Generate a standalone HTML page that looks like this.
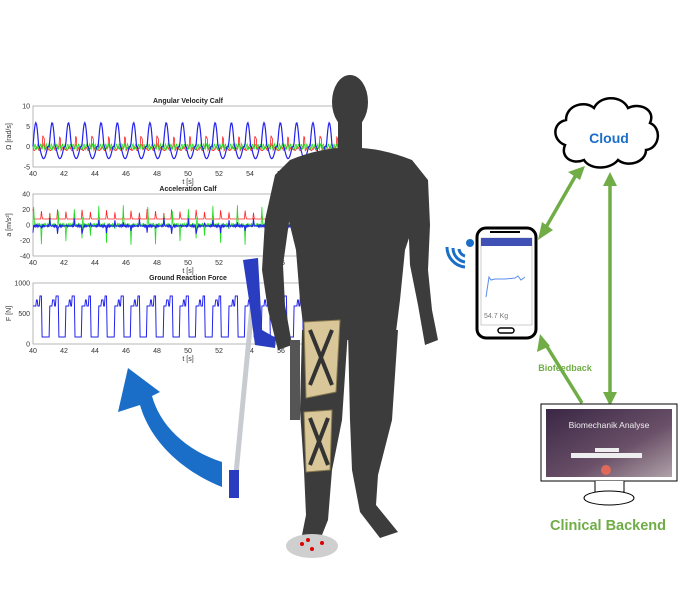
<!DOCTYPE html>
<html><head><meta charset="utf-8"><style>
html,body{margin:0;padding:0;background:#fff;width:678px;height:601px;overflow:hidden}
svg text{font-family:"Liberation Sans",sans-serif}
</style></head><body>
<svg id="s" width="678" height="601" viewBox="0 0 678 601" xmlns="http://www.w3.org/2000/svg">
<g id="plots" font-size="7" fill="#333"></g>
<!-- blue curved arrow -->
<path d="M222,487 C180,470 150,440 140,405 L118,412 L128,368 L160,392 L152,396 C160,425 185,450 222,462 Z" fill="#1a6ec8"/>
<!-- crutch -->
<g>
<line x1="256" y1="265" x2="234" y2="495" stroke="#c8ccd0" stroke-width="5"/>
<path d="M243,260 L258,258 L262,330 L276,338 L275,348 L255,345 L249,300 Z" fill="#2a3cc0"/>
<rect x="229" y="470" width="10" height="28" fill="#2a3cc0"/>
</g>
<!-- human figure -->
<g fill="#3c3c3c">
<ellipse cx="350" cy="102" rx="18" ry="27"/>
<rect x="338" y="118" width="24" height="32"/>
<path d="M290,160 Q350,135 412,160 L420,205 L405,250 L400,300 L395,340 L305,340 L300,300 L296,250 L285,205 Z"/>
<path d="M290,160 L275,175 L265,220 L262,270 L268,310 L278,350 L292,345 L285,305 L283,265 L290,215 L298,180 Z"/>
<path d="M412,160 L428,180 L430,225 L428,270 L432,310 L438,340 L425,345 L418,305 L410,265 L408,215 Z"/>
<path d="M302,330 L348,330 L342,420 L332,470 L328,520 L318,545 L300,545 L306,515 L304,470 L300,410 Z"/>
<path d="M348,330 L398,330 L392,420 L378,475 L376,505 L398,532 L380,538 L360,512 L352,470 L350,420 Z"/>
</g>
<g fill="#d9c79a" stroke="#8a7a50" stroke-width="1">
<path d="M304,322 L340,320 L336,392 L306,398 Z"/>
<path d="M304,412 L332,410 L330,470 L306,472 Z"/>
</g>
<g stroke="#333" stroke-width="4" fill="none">
<path d="M310,330 L332,385 M332,330 L310,385 M310,418 L328,465 M328,418 L310,465"/>
</g>
<rect x="290" y="340" width="10" height="80" fill="#555"/>
<ellipse cx="312" cy="546" rx="26" ry="12" fill="#cfcfcf"/>
<g fill="#d00"><circle cx="302" cy="544" r="2"/><circle cx="312" cy="549" r="2"/><circle cx="322" cy="543" r="2"/><circle cx="308" cy="540" r="2"/></g>
<!-- cloud -->
<path d="M565,145 C552,140 552,123 566,120 C566,105 585,100 594,108 C600,95 622,95 628,108 C640,102 656,110 650,123 C662,128 660,148 646,150 C646,162 628,168 618,160 C610,170 590,170 584,160 C572,165 560,157 565,145 Z" fill="#fff" stroke="#000" stroke-width="2.5"/>
<text x="609" y="143" font-size="14" font-weight="bold" fill="#1a6ec8" text-anchor="middle">Cloud</text>
<!-- green arrows -->
<g stroke="#70ad47" stroke-width="3.5" fill="#70ad47">
<line x1="576" y1="175" x2="545" y2="229"/>
<line x1="610" y1="182" x2="610" y2="398"/>
<line x1="582" y1="403" x2="546" y2="345"/>
</g>
<g fill="#70ad47">
<polygon points="585,166 568,172 580,180"/><polygon points="538,240 542,222 553,230"/>
<polygon points="610,172 603,186 617,186"/><polygon points="610,406 603,392 617,392"/>
<polygon points="540,334 537,352 550,346"/>
</g>
<text x="565" y="371" font-size="9" font-weight="bold" fill="#70ad47" text-anchor="middle">Biofeedback</text>
<!-- wifi -->
<g fill="none" stroke="#1a6ec8" stroke-width="3">
<path d="M459,249 a8,8 0 0 0 6,7"/><path d="M453,248 a14,14 0 0 0 12,14"/><path d="M447,247 a20,20 0 0 0 18,20"/>
</g>
<circle cx="470" cy="243" r="4" fill="#1a6ec8"/>
<!-- phone -->
<rect x="477" y="228" width="59" height="110" rx="9" fill="#fff" stroke="#000" stroke-width="3"/>
<rect x="481" y="238" width="51" height="87" fill="#fff" stroke="#999" stroke-width="0.5"/>
<rect x="481" y="238" width="51" height="8" fill="#3f51b5"/>
<line x1="490" y1="232" x2="520" y2="232" stroke="#000" stroke-width="2"/>
<rect x="498" y="328" width="16" height="5" rx="2.5" fill="none" stroke="#000" stroke-width="1.5"/>
<polyline points="486,297 489,277 491,280 495,279 505,279 515,278 518,276 521,280 525,277" fill="none" stroke="#5b8def" stroke-width="1"/>
<text x="484" y="318" font-size="7" fill="#777">54.7 Kg</text>
<!-- monitor -->
<rect x="541" y="404" width="136" height="77" fill="#fff" stroke="#000" stroke-width="1"/>
<defs><linearGradient id="g" x1="0" y1="0" x2="1" y2="1"><stop offset="0" stop-color="#3a2745"/><stop offset="0.6" stop-color="#6a5068"/><stop offset="1" stop-color="#b0a2a8"/></linearGradient></defs>
<rect x="546" y="409" width="126" height="68" fill="url(#g)"/>
<text x="609" y="428" font-size="8.5" fill="#eee" text-anchor="middle">Biomechanik Analyse</text>
<rect x="571" y="453" width="71" height="5" fill="#eee"/>
<rect x="595" y="448" width="24" height="4" fill="#eee"/>
<circle cx="606" cy="470" r="5" fill="#e06a5a"/>
<path d="M595,481 L595,492 L624,492 L624,481" fill="#fff" stroke="#000" stroke-width="1"/>
<ellipse cx="609" cy="498" rx="25" ry="7" fill="#fff" stroke="#000" stroke-width="1"/>
<text x="608" y="530" font-size="14.5" font-weight="bold" fill="#70ad47" text-anchor="middle">Clinical Backend</text>
</svg>
<script>
(function(){
var g=document.getElementById('plots'),NS='http://www.w3.org/2000/svg';
function el(t,a,txt){var e=document.createElementNS(NS,t);for(var k in a)e.setAttribute(k,a[k]);if(txt)e.textContent=txt;g.appendChild(e);return e;}
var X0=33,X1=340;
var P=[{t:'Angular Velocity Calf',y0:106,y1:167,yl:['10','5','0','-5'],lab:'\u03a9 [rad/s]'},
{t:'Acceleration Calf',y0:194,y1:256,yl:['40','20','0','-20','-40'],lab:'a [m/s\u00b2]'},
{t:'Ground Reaction Force',y0:283,y1:344,yl:['1000','500','0'],lab:'F [N]'}];
P.forEach(function(p,i){
 el('rect',{x:X0,y:p.y0,width:X1-X0,height:p.y1-p.y0,fill:'#fff',stroke:'#888','stroke-width':0.6});
 el('text',{x:188,y:p.y0-3,'font-size':7,'font-weight':'bold','text-anchor':'middle',fill:'#222'},p.t);
 for(var k=0;k<p.yl.length;k++){var yy=p.y0+k*(p.y1-p.y0)/(p.yl.length-1);el('text',{x:X0-3,y:yy+2.5,'text-anchor':'end'},p.yl[k]);}
 for(var s=40;s<=60;s+=2){var xx=X0+(s-40)*15.5;el('text',{x:xx,y:p.y1+9,'text-anchor':'middle'},''+s);}
 el('text',{x:188,y:p.y1+17,'text-anchor':'middle'},'t [s]');
 el('text',{x:11,y:(p.y0+p.y1)/2,'text-anchor':'middle',transform:'rotate(-90 11 '+(p.y0+p.y1)/2+')'},p.lab);
 function line(f,c,w){var pts=[];for(var x=X0;x<=X1;x+=0.7){pts.push(x.toFixed(1)+','+f(x).toFixed(1));}el('polyline',{points:pts.join(' '),fill:'none',stroke:c,'stroke-width':w});}
 var per=16.3;
 if(i==0){var z=p.y0+(p.y1-p.y0)*2/3;
  line(function(x){var ph=((x-X0)%per)/per;return z+Math.sin(ph*20)*2-(ph>0.6&&ph<0.7?12:0)+2;},'#f22',0.8);
  line(function(x){var ph=((x-X0)%per)/per;return z+Math.sin(ph*37)*3;},'#2d2',0.8);
  line(function(x){var ph=((x-X0)%per)/per;return z-(ph<0.35?Math.sin(ph/0.35*Math.PI)*24:0)+(ph>0.4&&ph<0.9?12*Math.sin((ph-0.4)/0.5*Math.PI):0);},'#22e',1.2);}
 else if(i==1){var z=(p.y0+p.y1)/2;
  line(function(x){var ph=((x-X0)%(per/2))/(per/2);return z-6-(ph<0.15?10*(1-ph/0.15):0);},'#f22',0.8);
  line(function(x){var ph=((x-X0)%(per/2))/(per/2);return z+(ph<0.1?Math.sin(ph*60)*20:Math.sin(ph*30)*2);},'#2d2',0.8);
  line(function(x){var ph=((x-X0)%(per/2))/(per/2);return z+1+(ph<0.1?Math.sin(ph*60+1)*8:Math.sin(ph*40));},'#22e',1);}
 else{ line(function(x){var ph=((x-X0)%per)/per;return ph<0.55?p.y1-38-(ph>0.2&&ph<0.3?6:0)-(ph>0.4?10:0):p.y1-7;},'#22e',1);}
});
})();
</script>
</body></html>
